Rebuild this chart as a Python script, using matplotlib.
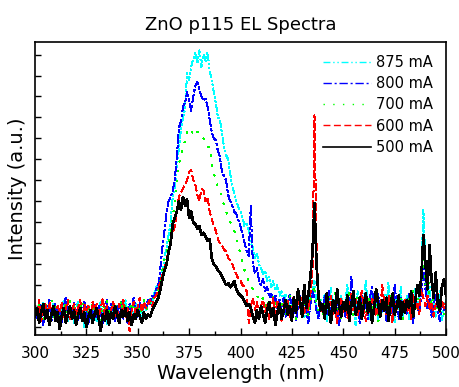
import matplotlib
matplotlib.use("Agg")
import matplotlib.pyplot as plt
from matplotlib.ticker import MultipleLocator, NullFormatter

plt.rcParams['font.family'] = ['DejaVu Sans']

wavelength = list(range(300, 501))  # nm, 1 nm step

i_875 = [
    6, 10, 3, 8, 12, 4, 9, 2, 7, 11,
    5, 9, 1, 6, 13, 8, 3, 10, 6, 2,
    9, 12, 5, 7, 0, 8, 11, 4, 10, 6,
    3, 8, 12, 6, 9, 1, 7, 4, 11, 5,
    8, 2, 10, 6, 13, 7, 3, 9, 5, 11,
    7, 10, 4, 12, 8, 11, 14, 10, 16, 20,
    18, 24, 26, 33, 38, 44, 50, 62, 66, 78,
    85, 94, 100, 104, 121, 118, 124, 128, 131, 126,
    132, 124, 130, 127, 131, 122, 118, 112, 107, 100,
    99, 92, 86, 82, 80, 73, 67, 64, 60, 57,
    55, 52, 48, 50, 46, 40, 38, 33, 35, 30,
    28, 25, 27, 22, 24, 19, 22, 18, 20, 15,
    17, 12, 16, 9, 14, 11, 6, 13, 8, 15,
    10, 4, 12, 7, 14, 18, 22, 9, 5, 13,
    8, 16, 3, 11, 19, 6, 13, 2, 10, 15,
    7, 12, 20, 5, 14, 9, 1, 17, 11, 6,
    13, 22, 8, 4, 15, 10, 18, 3, 12, 7,
    16, 9, 21, 6, 11, 2, 14, 8, 19, 5,
    10, 15, 4, 12, 7, 18, 9, 14, 25, 56,
    30, 12, 20, 8, 15, 5, 11, 17, 3, 9,
    13]

i_800 = [
    8, 4, 12, 6, 1, 10, 7, 13, 3, 9,
    11, 5, 8, 2, 10, 14, 6, 9, 4, 12,
    7, 3, 10, 5, 12, 8, 1, 9, 6, 11,
    4, 10, 7, 2, 8, 13, 5, 11, 9, 3,
    10, 6, 12, 4, 8, 2, 11, 7, 14, 9,
    5, 12, 8, 10, 9, 13, 11, 15, 14, 18,
    20, 28, 38, 46, 55, 60, 62, 65, 70, 81,
    95, 98, 105, 107, 112, 108, 103, 110, 115, 117,
    113, 110, 108, 109, 105, 99, 93, 90, 89, 84,
    81, 74, 72, 70, 63, 60, 58, 55, 54, 51,
    48, 44, 40, 36, 34, 58, 30, 26, 28, 22,
    20, 23, 17, 19, 14, 16, 11, 15, 9, 13,
    8, 14, 5, 11, 16, 7, 12, 3, 10, 15,
    6, 13, 9, 2, 11, 17, 14, 8, 4, 12,
    9, 15, 6, 18, 3, 11, 7, 14, 1, 10,
    12, 5, 16, 9, 24, 13, 6, 10, 2, 15,
    8, 11, 4, 14, 19, 7, 12, 16, 5, 9,
    13, 3, 10, 15, 6, 20, 11, 4, 14, 8,
    12, 6, 16, 9, 2, 13, 10, 7, 15, 28,
    18, 9, 14, 5, 11, 16, 7, 3, 12, 8,
    10]

i_700 = [
    9, 5, 11, 7, 3, 12, 6, 10, 14, 4,
    8, 12, 6, 3, 9, 11, 5, 13, 7, 10,
    4, 11, 8, 13, 6, 2, 10, 7, 12, 5,
    9, 6, 3, 11, 7, 13, 8, 4, 10, 12,
    6, 9, 13, 5, 10, 3, 8, 12, 7, 10,
    11, 6, 9, 13, 10, 8, 12, 11, 15, 17,
    18, 22, 27, 32, 35, 40, 45, 52, 60, 70,
    78, 81, 86, 89, 93, 91, 92, 94, 95, 93,
    93, 91, 90, 88, 86, 86, 78, 74, 69, 67,
    65, 62, 58, 55, 53, 50, 48, 46, 43, 38,
    35, 31, 27, 25, 22, 20, 18, 16, 15, 13,
    12, 14, 10, 13, 8, 11, 15, 9, 12, 7,
    10, 13, 6, 11, 15, 8, 12, 4, 14, 9,
    7, 12, 10, 5, 13, 16, 20, 11, 8, 14,
    6, 12, 9, 15, 4, 11, 17, 8, 13, 3,
    10, 14, 7, 18, 9, 5, 12, 16, 8, 11,
    4, 13, 9, 15, 6, 11, 17, 2, 10, 14,
    8, 12, 5, 16, 10, 7, 13, 9, 15, 4,
    11, 6, 14, 9, 17, 8, 12, 16, 22, 33,
    20, 28, 14, 10, 16, 7, 12, 9, 14, 6,
    11]

i_600 = [
    10, 6, 13, 3, 8, 11, 5, 12, 7, 9,
    3, 10, 7, 12, 5, 9, 13, 4, 8, 11,
    6, 9, 13, 3, 11, 7, 10, 5, 12, 8,
    11, 5, 9, 14, 6, 10, 2, 8, 12, 7,
    4, 11, 7, 13, 5, 9, -2, 8, 12, 6,
    10, 14, 7, 12, 9, 11, 13, 10, 14, 15,
    18, 22, 25, 28, 32, 36, 40, 45, 48, 55,
    62, 64, 66, 68, 70, 74, 75, 70, 68, 63,
    60, 66, 65, 60, 62, 55, 52, 48, 46, 42,
    40, 39, 37, 36, 33, 32, 30, 27, 25, 23,
    22, 20, 19, 17, 2, 10, 14, 8, 12, 6,
    10, 13, 7, 11, 4, 9, 14, 6, 12, 8,
    3, 11, 8, 13, 5, 10, 15, 7, 12, 9,
    14, 6, 11, 8, 16, 25, 101, 40, 12, 7,
    10, 4, 13, 8, 15, 6, 11, 2, 9, 14,
    7, 12, 4, 10, 16, 8, 13, 5, 11, 17,
    9, 3, 12, 7, 14, 10, 5, 13, 8, 20,
    11, 6, 15, 9, 2, 12, 8, 14, 5, 10,
    13, 7, 11, 4, 16, 9, 12, 6, 18, 14,
    10, 15, 8, 12, 5, 11, 16, 7, 13, 9,
    12]

i_500 = [
    5, 9, 2, 7, 11, 4, 8, 1, 6, 10,
    3, 7, -1, 5, 9, 2, 6, 10, 4, 8,
    1, 6, 9, 3, 7, 0, 5, 8, 2, 6,
    9, 4, -2, 6, 3, 8, 1, 7, 4, 10,
    6, 2, 8, 5, 9, 3, 7, 1, 6, 4,
    8, 5, 2, 7, 4, 6, 5, 8, 10, 12,
    14, 18, 23, 27, 30, 36, 40, 49, 52, 55,
    60, 56, 62, 58, 61, 52, 55, 50, 49, 47,
    48, 44, 45, 43, 41, 42, 33, 30, 29, 27,
    26, 24, 22, 20, 21, 19, 20, 22, 18, 16,
    15, 14, 12, 10, 11, 9, 5, 2, 8, 4,
    10, 6, 2, 8, 12, 5, 9, 1, 7, 11,
    4, 8, 13, 6, 10, 3, 14, 7, 18, 12,
    5, 20, 9, 15, 24, 35, 59, 30, 14, 8,
    11, 4, 16, 9, 2, 13, 7, 18, 10, 5,
    12, 8, 15, 3, 11, 17, 6, 9, 14, 4,
    10, 16, 7, 12, 2, 9, 18, 11, 5, 13,
    8, 14, 3, 11, 16, 6, 10, 15, 4, 12,
    7, 13, 9, 17, 5, 12, 20, 15, 24, 44,
    30, 18, 39, 22, 14, 26, 11, 8, 19, 23,
    15]

labels = ['875 mA', '800 mA', '700 mA', '600 mA', '500 mA']
series = [i_875, i_800, i_700, i_600, i_500]
colors = ['#00FFFF', '#0000FF', '#00FF00', '#FF0000', '#000000']
styles = [(0, (5, 2, 1, 2, 1, 2)), (0, (6, 2, 1.5, 2)),
          (0, (1, 6)), (0, (5, 2.5)), '-']
widths = [1.0, 1.0, 1.0, 1.0, 1.2]

title = 'ZnO p115 EL Spectra'
xlabel = 'Wavelength (nm)'
ylabel = 'Intensity (a.u.)'
xticks = [300, 325, 350, 375, 400, 425, 450, 475, 500]

fig = plt.figure(figsize=(4.59, 3.87), dpi=100)
ax = fig.add_axes([35 / 459, 1 - 335 / 387, 411 / 459, 293 / 387])

for y, lab, c, ls, lw in zip(series, labels, colors, styles, widths):
    ax.plot(wavelength, y, color=c, linestyle=ls, linewidth=lw,
            antialiased=False, label=lab)

ax.set_xlim(300, 500)
ax.set_ylim(-3.8, 136)
ax.set_xticks(xticks)
ax.set_xticklabels([str(t) for t in xticks])
ax.xaxis.set_minor_locator(MultipleLocator(12.5))
ax.set_yticks(list(range(0, 131, 10)))
ax.yaxis.set_major_formatter(NullFormatter())
ax.tick_params(axis='x', which='major', direction='in', length=5, width=1,
               labelsize=11, pad=8, top=False)
ax.tick_params(axis='x', which='minor', direction='in', length=3, width=1,
               top=False)
ax.tick_params(axis='y', which='major', direction='in', length=4, width=1,
               right=False)
for sp in ax.spines.values():
    sp.set_linewidth(1.2)

ax.set_title(title, fontsize=13, pad=9)
ax.set_xlabel(xlabel, fontsize=14, labelpad=2)
ax.set_ylabel(ylabel, fontsize=14, labelpad=2)

leg = ax.legend(loc='upper right', bbox_to_anchor=(0.99, 0.985),
                frameon=False, fontsize=10.5, handlelength=3.3,
                handletextpad=0.35, labelspacing=0.42, borderaxespad=0.2)

fig.savefig('out.png', dpi=100)
